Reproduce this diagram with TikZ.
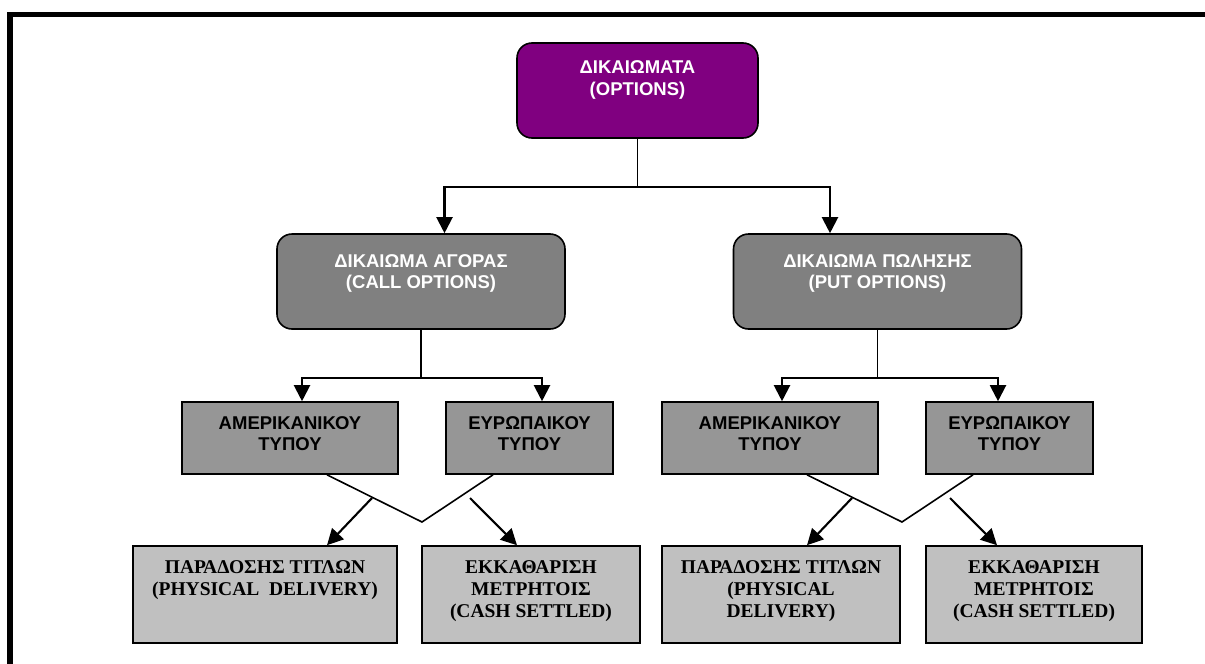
\documentclass[tikz,border=0pt]{standalone}
\usepackage{fontspec}
\setmainfont{Liberation Serif}
\setsansfont{Liberation Sans}
\usetikzlibrary{arrows.meta}

\definecolor{optpurple}{HTML}{800080}
\definecolor{kindgray}{HTML}{808080}
\definecolor{stylegray}{HTML}{969696}
\definecolor{settlegray}{HTML}{C0C0C0}

\begin{document}
\begin{tikzpicture}[x=1pt,y=-1pt,>={Triangle[length=16pt,width=16pt]},
    box/.style={draw=black,line width=1.6pt,inner sep=0pt},
    topbox/.style={box,fill=optpurple,rounded corners=15pt,minimum width=241pt,minimum height=95pt},
    kindbox/.style={box,fill=kindgray,rounded corners=15pt,minimum width=288pt,minimum height=95pt},
    stylebox/.style={box,fill=stylegray,minimum height=72pt},
    settlebox/.style={box,fill=settlegray,minimum height=97pt},
    sanstxt/.style={font=\sffamily\bfseries\fontsize{18.5}{21.5}\selectfont,align=center,inner sep=0pt,anchor=north},
    seriftxt/.style={font=\rmfamily\bfseries\fontsize{19.5}{22}\selectfont,align=center,inner sep=0pt,anchor=north},
    link/.style={line width=1.6pt},
    pointer/.style={->,line width=2.1pt}]

  \useasboundingbox (0,0) rectangle (1205,664);
  \draw[line width=5.5pt] (10,690) -- (10,14.5) -- (1230,14.5);

  \node[topbox]                          (opt)      at (637.5,90.5) {};
  \node[kindbox]                         (call)     at (421,281.5)  {};
  \node[kindbox]                         (put)      at (877.5,281.5) {};
  \node[stylebox,minimum width=216pt]    (amcall)   at (290,438)    {};
  \node[stylebox,minimum width=167pt]    (eucall)   at (529.5,438)  {};
  \node[stylebox,minimum width=216pt]    (amput)    at (770,438)    {};
  \node[stylebox,minimum width=167pt]    (euput)    at (1009.5,438) {};
  \node[settlebox,minimum width=264pt]   (physcall) at (265,594.5)  {};
  \node[settlebox,minimum width=218pt]   (cashcall) at (531,594.5)  {};
  \node[settlebox,minimum width=238pt]   (physput)  at (781,594.5)  {};
  \node[settlebox,minimum width=216pt]   (cashput)  at (1034,594.5) {};

  \node[sanstxt,text=white] (opt-t)  at ([yshift=-18.5pt]opt.north)  {ΔΙΚΑΙΩΜΑΤΑ\\(OPTIONS)};
  \node[sanstxt,text=white] (call-t) at ([yshift=-21pt]call.north)   {ΔΙΚΑΙΩΜΑ ΑΓΟΡΑΣ\\(CALL OPTIONS)};
  \node[sanstxt,text=white] (put-t)  at ([yshift=-21pt]put.north)    {ΔΙΚΑΙΩΜΑ ΠΩΛΗΣΗΣ\\(PUT OPTIONS)};
  \node[sanstxt] (amcall-t) at ([yshift=-15pt]amcall.north) {ΑΜΕΡΙΚΑΝΙΚΟΥ\\ΤΥΠΟΥ};
  \node[sanstxt] (eucall-t) at ([yshift=-15pt]eucall.north) {ΕΥΡΩΠΑΙΚΟΥ\\ΤΥΠΟΥ};
  \node[sanstxt] (amput-t)  at ([yshift=-15pt]amput.north)  {ΑΜΕΡΙΚΑΝΙΚΟΥ\\ΤΥΠΟΥ};
  \node[sanstxt] (euput-t)  at ([yshift=-15pt]euput.north)  {ΕΥΡΩΠΑΙΚΟΥ\\ΤΥΠΟΥ};
  \node[seriftxt] (physcall-t) at ([yshift=-15pt]physcall.north) {ΠΑΡΑΔΟΣΗΣ ΤΙΤΛΩΝ\\(PHYSICAL\ \ DELIVERY)};
  \node[seriftxt] (cashcall-t) at ([yshift=-15pt]cashcall.north) {ΕΚΚΑΘΑΡΙΣΗ\\ΜΕΤΡΗΤΟΙΣ\\(CASH SETTLED)};
  \node[seriftxt] (physput-t)  at ([yshift=-15pt]physput.north)  {ΠΑΡΑΔΟΣΗΣ ΤΙΤΛΩΝ\\(PHYSICAL\\DELIVERY)};
  \node[seriftxt] (cashput-t)  at ([yshift=-15pt]cashput.north)  {ΕΚΚΑΘΑΡΙΣΗ\\ΜΕΤΡΗΤΟΙΣ\\(CASH SETTLED)};

  \draw[link] (opt.south) -- ++(0,48) coordinate (split);
  \draw[pointer] (split) -| ([xshift=23.5pt]call.north);
  \draw[pointer] (split) -| ([xshift=-47.5pt]put.north);

  \draw[link] (call.south) -- ++(0,48) coordinate (splitcall);
  \draw[pointer] (splitcall) -| ([xshift=12pt]amcall.north);
  \draw[pointer] (splitcall) -| ([xshift=12.5pt]eucall.north);
  \draw[link] (put.south) -- ++(0,48) coordinate (splitput);
  \draw[pointer] (splitput) -| ([xshift=12pt]amput.north);
  \draw[pointer] (splitput) -| ([xshift=-11.5pt]euput.north);

  \draw[link] ([xshift=37pt]amcall.south) -- (422,522) coordinate (vcall) -- ([xshift=-36.5pt]eucall.south);
  \draw[link] ([xshift=37pt]amput.south) -- (902,522) coordinate (vput) -- ([xshift=-36.5pt]euput.south);

  \coordinate (physcall-s) at (372,498);
  \coordinate (cashcall-s) at (470,498);
  \coordinate (physput-s)  at (852,498);
  \coordinate (cashput-s)  at (950,498);
  \draw[pointer] (physcall-s) -- ([xshift=62pt]physcall.north);
  \draw[pointer] (cashcall-s) -- ([xshift=-14pt]cashcall.north);
  \draw[pointer] (physput-s)  -- ([xshift=26pt]physput.north);
  \draw[pointer] (cashput-s)  -- ([xshift=-37pt]cashput.north);
\end{tikzpicture}
\end{document}
